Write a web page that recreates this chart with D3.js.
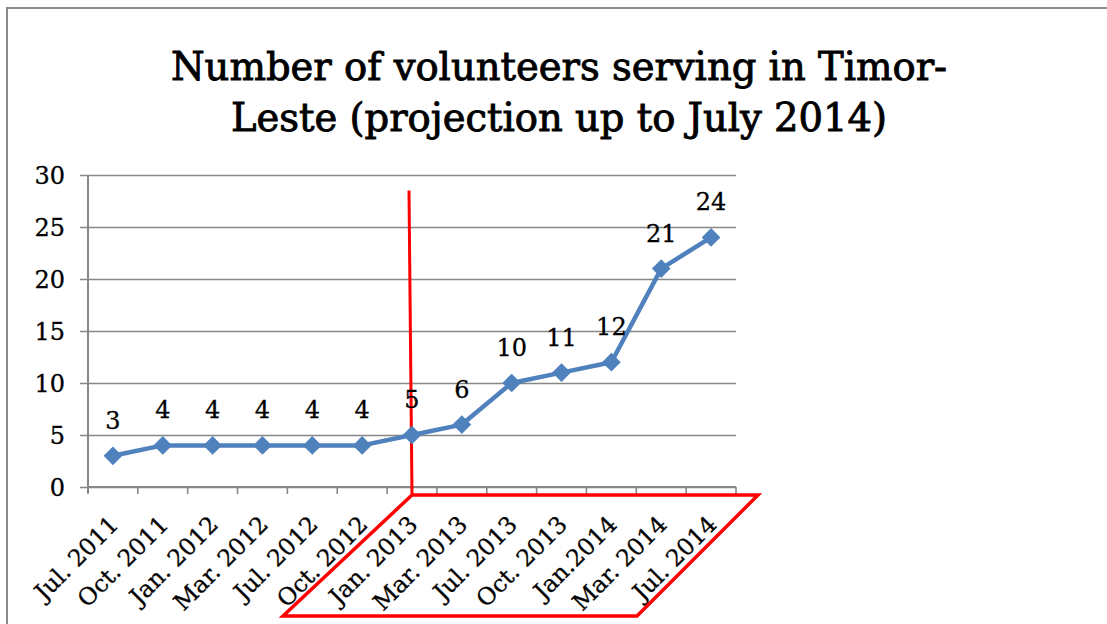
<!DOCTYPE html>
<html>
<head>
<meta charset="utf-8">
<script src="https://cdn.jsdelivr.net/npm/d3@7/dist/d3.min.js"></script>
<style>
  html, body { margin: 0; padding: 0; background: #fff; }
  svg { display: block; }
  text { font-family: "DejaVu Serif", serif; fill: #000; }
</style>
</head>
<body>
<svg id="chart" width="1107" height="624"></svg>
<script>
const categories = ["Jul. 2011","Oct. 2011","Jan. 2012","Mar. 2012","Jul. 2012","Oct. 2012",
  "Jan. 2013","Mar. 2013","Jul. 2013","Oct. 2013","Jan.2014","Mar. 2014","Jul. 2014"];
const volunteers = [3,4,4,4,4,4,5,6,10,11,12,21,24];
const yTicks = [0,5,10,15,20,25,30];
const titleLines = ["Number of volunteers serving in Timor-", "Leste (projection up to July 2014)"];
const projectionStart = "Jan. 2013";

const W = 1107, H = 624;
const plot = {left: 88, right: 736, top: 175, bottom: 487};
const svg = d3.select("#chart");

// outer frame (top and left edges visible)
svg.append("path")
  .attr("d", `M7,${H} L7,8 L${W},8`)
  .attr("fill", "none").attr("stroke", "#8c8c8c").attr("stroke-width", 2);

// title
svg.append("g").selectAll("text").data(titleLines).join("text")
  .attr("x", 559).attr("y", (d, i) => 80 + i * 51)
  .attr("text-anchor", "middle")
  .style("font-size", "38.5px")
  .attr("stroke", "#000").attr("stroke-width", 0.9)
  .text(d => d);

const x = d3.scaleBand().domain(categories).range([plot.left, plot.right]).padding(0);
const y = d3.scaleLinear().domain([0, 30]).range([plot.bottom, plot.top]);

// gridlines + y ticks
const yAxis = d3.axisLeft(y).tickValues(yTicks).tickSize(-(plot.right - plot.left)).tickSizeOuter(0).tickPadding(0).tickFormat(d3.format("d"));
const gy = svg.append("g").attr("transform", `translate(${plot.left},0)`).call(yAxis);
gy.select(".domain").remove();
gy.selectAll(".tick line").attr("x1", -8).attr("stroke", "#878787").attr("stroke-width", 1.6);
gy.selectAll(".tick text").attr("x", -23).attr("dy", "0.36em")
  .style("font-size", "24px").style("font-family", "DejaVu Serif, serif")
  .attr("fill", "#000").attr("stroke", "#000").attr("stroke-width", 0.3);

// y axis line
svg.append("line").attr("x1", plot.left).attr("x2", plot.left)
  .attr("y1", y(30)).attr("y2", y(0) + 6)
  .attr("stroke", "#878787").attr("stroke-width", 2);

// x axis line and ticks at category boundaries
svg.append("line").attr("x1", plot.left).attr("x2", plot.right)
  .attr("y1", y(0)).attr("y2", y(0)).attr("stroke", "#878787").attr("stroke-width", 2);
const boundaries = categories.map(c => x(c)).concat([plot.right]);
svg.append("g").selectAll("line").data(boundaries).join("line")
  .attr("x1", d => d).attr("x2", d => d)
  .attr("y1", y(0)).attr("y2", y(0) + 7)
  .attr("stroke", "#878787").attr("stroke-width", 1.6);

// x labels rotated
svg.append("g").selectAll("text").data(categories).join("text")
  .attr("transform", d => `translate(${x(d) + x.bandwidth() / 2 + 7},${y(0) + 39}) rotate(-45)`)
  .attr("text-anchor", "end")
  .style("font-size", "23.5px")
  .attr("stroke", "#000").attr("stroke-width", 0.3)
  .text(d => d);

// red projection annotation
const xp = x(projectionStart) + x.bandwidth() / 2;
svg.append("line")
  .attr("x1", xp - 3).attr("y1", y(28.5))
  .attr("x2", xp).attr("y2", y(0) + 8)
  .attr("stroke", "#ff0000").attr("stroke-width", 3);
const skew = 121;
svg.append("path")
  .attr("d", `M${xp},${y(0) + 8} L${plot.right + 22},${y(0) + 8} L${plot.right + 22 - skew},${y(0) + 8 + skew} L${xp - skew - 8},${y(0) + 8 + skew} Z`)
  .attr("fill", "none").attr("stroke", "#ff0000").attr("stroke-width", 3.5).attr("stroke-linejoin", "miter");

// series line
const cx = d => x(d) + x.bandwidth() / 2;
const pts = categories.map((c, i) => [cx(c), y(volunteers[i])]);
svg.append("path").datum(pts)
  .attr("d", d3.line())
  .attr("fill", "none").attr("stroke", "#4f81bd").attr("stroke-width", 4.5).attr("stroke-linejoin", "round");

// markers
svg.append("g").selectAll("path").data(pts).join("path")
  .attr("transform", d => `translate(${d[0]},${d[1]}) rotate(45)`)
  .attr("d", d3.symbol(d3.symbolSquare, 175))
  .attr("fill", "#4f81bd");

// data labels
svg.append("g").selectAll("text").data(volunteers).join("text")
  .attr("x", (d, i) => pts[i][0])
  .attr("y", (d, i) => pts[i][1] - 27)
  .attr("text-anchor", "middle")
  .style("font-size", "24px")
  .attr("stroke", "#000").attr("stroke-width", 0.3)
  .text(d => d);
</script>
</body>
</html>
